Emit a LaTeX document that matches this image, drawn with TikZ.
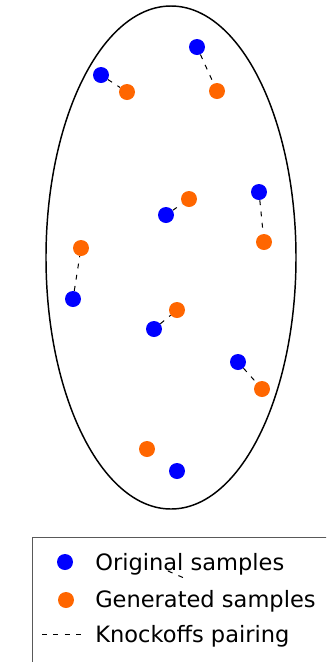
\documentclass[tikz,border=0pt]{standalone}
\usepackage{fontspec}
\setmainfont{DejaVu Sans}
\definecolor{origblue}{RGB}{0,0,255}
\definecolor{genorange}{RGB}{255,102,0}
\tikzset{
  orig/.style={circle,fill=origblue,inner sep=0pt,minimum size=12pt},
  gen/.style={circle,fill=genorange,inner sep=0pt,minimum size=12pt},
  pairing/.style={dash pattern=on 3.7pt off 4.8pt,line width=0.75pt},
  legendtext/.style={anchor=base west,inner sep=0pt,font=\fontsize{16.9}{20}\selectfont}
}
\begin{document}
\begin{tikzpicture}[x=0.75pt,y=0.75pt,yscale=-1]
\useasboundingbox (0,0) rectangle (326,662);

%Shape: Ellipse
\draw [line width=1.1pt] (171,257.5) ellipse (125 and 251.5);

%Original samples
\node [orig] (o1) at (197,47) {};
\node [orig] (o2) at (101,75) {};
\node [orig] (o3) at (166,215) {};
\node [orig] (o4) at (259,192) {};
\node [orig] (o5) at (73,299) {};
\node [orig] (o6) at (154,329) {};
\node [orig] (o7) at (238,362) {};
\node [orig] (o8) at (177,471) {};

%Generated samples
\node [gen] (g1) at (217,91) {};
\node [gen] (g2) at (127,92) {};
\node [gen] (g3) at (189,199) {};
\node [gen] (g4) at (264,242) {};
\node [gen] (g5) at (81,248) {};
\node [gen] (g6) at (177,310) {};
\node [gen] (g7) at (262,389) {};
\node [gen] (g8) at (147,449) {};

%Knockoffs pairing
\foreach \i in {1,...,7}
  \draw [pairing] (o\i) -- (g\i);

%Legend box
\begin{scope}
\clip (0,0) rectangle (326,662);
\draw [color=black!65,line width=0.75pt] (32,537) rectangle (340,680);
\end{scope}

%Legend entries
\node [orig] (lo) at (65,562) {};
\node [gen] (lg) at (66,600) {};
\coordinate (lp1) at (42,634);
\coordinate (lp2) at (83,634);
\draw [pairing] (lp1) -- (lp2);
\coordinate (s1) at (168,571);
\coordinate (s2) at (184,578);
\draw [pairing] (s1) -- (s2);

% Text Node
\node [legendtext] (to) at (95,570) {Original samples};
% Text Node
\node [legendtext] (tg) at (95,607) {Generated samples};
% Text Node
\node [legendtext] (tp) at (95,642) {Knockoffs pairing};

\end{tikzpicture}
\end{document}
